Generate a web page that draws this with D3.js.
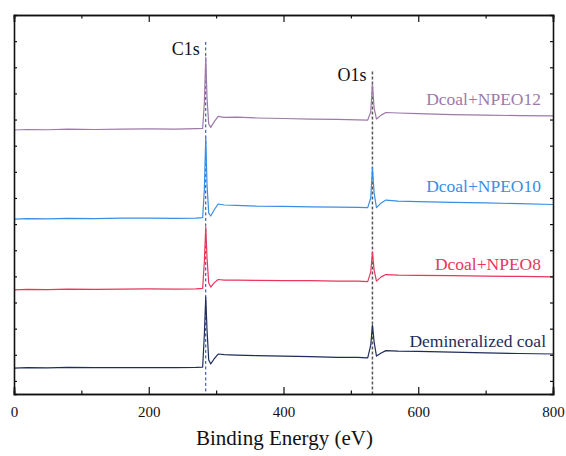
<!DOCTYPE html>
<html><head><meta charset="utf-8">
<script src="https://cdn.jsdelivr.net/npm/d3@7"></script>
<style>html,body{margin:0;padding:0;background:#fff;}svg{display:block;}</style>
</head><body>
<svg id="chart" width="566" height="456" font-family="Liberation Serif"></svg>
<script>
// Binding energy sample points (eV)
const energy = [0, 20, 50, 80, 120, 160, 200, 240, 270, 280, 282.5, 284.6, 286.5, 289, 292, 297, 303, 312, 330, 360, 400, 440, 480, 510, 525, 529.5, 532, 534.5, 538, 545, 552, 570, 600, 650, 700, 750, 800];
// Intensities (a.u., stacked)
const demineralized = [9.9, 10.1, 10.0, 10.2, 10.1, 10.1, 10.1, 10.1, 10.2, 10.3, 22.6, 37.1, 24.5, 13.0, 11.5, 13.4, 15.3, 15.1, 14.9, 14.7, 14.5, 14.3, 14.0, 14.0, 13.8, 18.7, 26.4, 19.9, 14.5, 15.7, 16.6, 16.4, 16.3, 16.0, 15.7, 15.5, 15.3];
const npeo8 = [39.8, 40.0, 39.9, 40.1, 40.0, 40.1, 40.2, 40.1, 40.2, 40.4, 50.5, 63.9, 52.0, 42.5, 40.9, 42.5, 43.8, 43.6, 43.6, 43.5, 43.4, 43.4, 43.2, 43.2, 43.0, 46.7, 54.3, 47.4, 43.2, 44.8, 45.7, 45.5, 45.4, 45.3, 45.1, 45.0, 44.8];
const npeo10 = [66.9, 67.1, 67.0, 67.2, 67.1, 67.3, 67.3, 67.2, 67.3, 67.5, 78.0, 98.3, 80.0, 69.2, 68.1, 70.4, 72.7, 72.3, 72.2, 71.9, 71.8, 71.6, 71.5, 71.4, 71.3, 75.0, 86.5, 76.9, 71.3, 73.1, 74.2, 73.8, 73.6, 73.3, 73.1, 72.8, 72.5];
const npeo12 = [101.0, 101.2, 101.1, 101.3, 101.2, 101.3, 101.4, 101.3, 101.5, 101.6, 111.3, 128.9, 113.2, 103.3, 102.0, 104.1, 106.2, 105.8, 105.9, 105.6, 105.4, 105.2, 105.1, 104.9, 104.8, 107.9, 118.6, 109.4, 105.2, 106.7, 107.7, 107.5, 107.3, 106.9, 106.7, 106.5, 106.4];
const seriesNames = ["Demineralized coal", "Dcoal+NPEO8", "Dcoal+NPEO10", "Dcoal+NPEO12"];
const seriesColors = ["#1f2c5c", "#e8365d", "#3a8ee6", "#9d7aa8"];
const seriesLabelY = [18.1, 47.4, 77.3, 110.7];
const peakNames = ["C1s", "O1s"];
const peakEnergy = [284.6, 532];
const peakLabelY = [129.7, 119.9];
const xTicks = [0, 200, 400, 600, 800];
const xMinorTicks = [100, 300, 500, 700];
const yTicks = [5, 15, 25, 35, 45, 55, 65, 75, 85, 95, 105, 115, 125, 135];

const svg = d3.select("#chart");
const m = {l: 14, r: 13, t: 15, b: 62};
const W = 566, H = 456;
const x = d3.scaleLinear().domain([0, 800]).range([m.l, W - m.r]);
const y = d3.scaleLinear().domain([0, 145]).range([H - m.b, m.t]);
const FONT = "Liberation Serif";

const series = [demineralized, npeo8, npeo10, npeo12];
const line = d3.line().x((d, i) => x(energy[i])).y(d => y(d));

// reference dashed lines
const dashColors = ["#1f3b8a", "#555"];
const dashWidth = [1, 1.5];
const dashArr = ["3,2.5", "3,2"];
const dashTop = [5, 3.5];
peakEnergy.forEach((e, i) => {
  svg.append("line").attr("x1", x(e)).attr("x2", x(e))
    .attr("y1", y(peakLabelY[i] + dashTop[i])).attr("y2", y(0))
    .attr("stroke", dashColors[i]).attr("stroke-width", dashWidth[i])
    .attr("stroke-dasharray", dashArr[i]);
});

series.forEach((s, k) => {
  svg.append("path").datum(s).attr("d", line)
    .attr("fill", "none").attr("stroke", seriesColors[k])
    .attr("stroke-width", 1.2).attr("stroke-linejoin", "round");
  svg.append("text").attr("x", k === 0 ? 546 : 541).attr("y", y(seriesLabelY[k]))
    .attr("text-anchor", "end").attr("font-family", FONT).attr("font-size", 17.5)
    .attr("fill", seriesColors[k]).text(seriesNames[k]);
});

peakNames.forEach((n, i) => {
  svg.append("text").attr("x", x(peakEnergy[i]) - 6).attr("y", y(peakLabelY[i]))
    .attr("text-anchor", "end").attr("font-family", FONT).attr("font-size", 18)
    .attr("fill", "#111").text(n);
});

// axes (inward ticks, mirrored)
const gB = svg.append("g").attr("transform", `translate(0,${H - m.b})`)
  .call(d3.axisBottom(x).tickValues(xTicks).tickSize(-7).tickPadding(12).tickFormat(d3.format("d")));
const gBm = svg.append("g").attr("transform", `translate(0,${H - m.b})`)
  .call(d3.axisBottom(x).tickValues(xMinorTicks).tickSize(-3.5).tickFormat(""));
const gT = svg.append("g").attr("transform", `translate(0,${m.t})`)
  .call(d3.axisTop(x).tickValues(xTicks).tickSize(-7).tickFormat(""));
const gTm = svg.append("g").attr("transform", `translate(0,${m.t})`)
  .call(d3.axisTop(x).tickValues(xMinorTicks).tickSize(-3.5).tickFormat(""));
const gL = svg.append("g").attr("transform", `translate(${m.l},0)`)
  .call(d3.axisLeft(y).tickValues(yTicks).tickSize(-3).tickFormat(""));
const gR = svg.append("g").attr("transform", `translate(${W - m.r},0)`)
  .call(d3.axisRight(y).tickValues(yTicks).tickSize(-3).tickFormat(""));
[gB, gBm, gT, gTm, gL, gR].forEach(g => {
  g.attr("font-family", FONT);
  g.select(".domain").attr("stroke", "#111").attr("stroke-width", 1.6);
  g.selectAll(".tick line").attr("stroke", "#111").attr("stroke-width", 1.2);
});
gB.selectAll(".tick text").attr("font-family", FONT).attr("font-size", 15).attr("fill", "#111");

svg.append("text").attr("x", (m.l + W - m.r) / 2 + 1).attr("y", 445)
  .attr("text-anchor", "middle").attr("font-family", FONT).attr("font-size", 21)
  .attr("fill", "#111").text("Binding Energy (eV)");
</script>
</body></html>
